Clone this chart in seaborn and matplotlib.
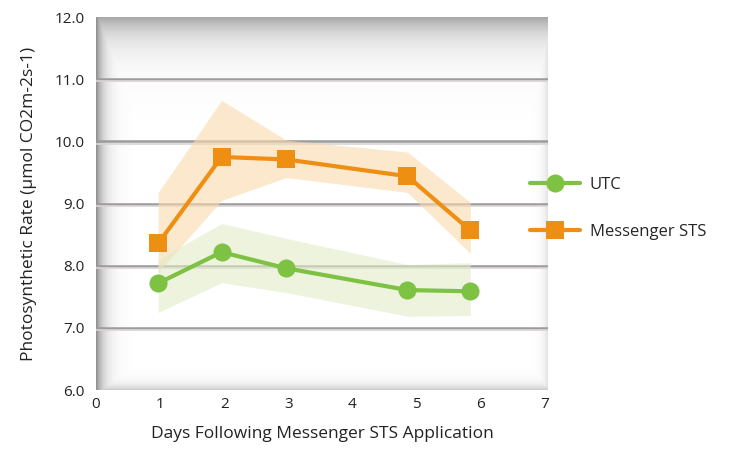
import numpy as np
import pandas as pd
import matplotlib
matplotlib.use("Agg")
import matplotlib.pyplot as plt
import seaborn as sns

# Data
days = [0.97, 1.96, 2.97, 4.86, 5.84]
utc = [7.72, 8.22, 7.96, 7.61, 7.59]
utc_low = [7.25, 7.73, 7.57, 7.19, 7.20]
utc_high = [8.10, 8.68, 8.44, 8.02, 8.05]
sts = [8.36, 9.75, 9.71, 9.44, 8.57]
sts_low = [7.90, 9.05, 9.42, 9.18, 8.20]
sts_high = [9.18, 10.66, 10.02, 9.83, 9.02]
x_ticks = [0, 1, 2, 3, 4, 5, 6, 7]
y_ticks = [6.0, 7.0, 8.0, 9.0, 10.0, 11.0, 12.0]

green = "#7dc242"
orange = "#ee8f14"

sns.set_theme(style="white")
plt.rcParams['font.family'] = ['Open Sans', 'DejaVu Sans']

df = pd.DataFrame({
    'Day': days * 2,
    'Rate': utc + sts,
    'Series': ['UTC'] * len(days) + ['Messenger STS'] * len(days),
})

fig = plt.figure(figsize=(7.3, 4.49), dpi=100)
ax = fig.add_axes([0.1315, 0.131, 0.619, 0.831])

# inner shadow on plot area
h, w = 300, 600
yy, xx = np.mgrid[0:h, 0:w]
left = np.exp(-xx / 10.0) * 0.8
top = np.exp(-yy / 16.0) * 0.65
bottom = np.exp(-(h - 1 - yy) / 4.0) * 0.35
right = np.exp(-(w - 1 - xx) / 6.0) * 0.2
alpha = np.clip(np.maximum.reduce([left, top, bottom, right]), 0, 1)
img = np.zeros((h, w, 4))
img[..., :3] = 0.45
img[..., 3] = alpha
ax.imshow(img, extent=[0, 1, 0, 1], transform=ax.transAxes, aspect='auto', zorder=0)

ax.fill_between(days, sts_low, sts_high, color="#f9d9ad", alpha=0.6, lw=0, zorder=1)
ax.fill_between(days, utc_low, utc_high, color="#e1ebc6", alpha=0.6, lw=0, zorder=1)

sns.lineplot(
    data=df, x='Day', y='Rate', hue='Series', style='Series',
    palette={'UTC': green, 'Messenger STS': orange},
    markers={'UTC': 'o', 'Messenger STS': 's'}, dashes=False,
    linewidth=3, markersize=13, markeredgewidth=0, ax=ax, zorder=3,
    legend=False,
)

for yv in y_ticks[1:-1]:
    ax.axhline(yv, color="#9b9b9b", lw=1.8, zorder=0.5)
    ax.axhline(yv - 0.035, color="#d9d4d6", lw=1.2, zorder=0.5)

ax.set_xlim(0, 7.05)
ax.set_ylim(6.0, 12.0)
ax.set_xticks(x_ticks)
ax.set_yticks(y_ticks)
ax.set_yticklabels([f"{v:.1f}" for v in y_ticks])
ax.tick_params(axis='both', length=0, labelsize=11, colors='#222222')
ax.tick_params(axis='y', pad=8)
ax.tick_params(axis='x', pad=5)
for s in ax.spines.values():
    s.set_visible(False)

ax.set_xlabel('Days Following Messenger STS Application', fontsize=12.5, color='#222222', labelpad=10)
ax.set_ylabel('Photosynthetic Rate (\u03bcmol CO2m-2s-1)', fontsize=12.5, color='#222222', labelpad=13)

handles = [
    plt.Line2D([], [], color=green, lw=3, marker='o', markersize=13, markeredgewidth=0),
    plt.Line2D([], [], color=orange, lw=3, marker='s', markersize=13, markeredgewidth=0),
]
fig.legend(handles, ['UTC', 'Messenger STS'], loc='upper left',
           bbox_to_anchor=(0.705, 0.64), frameon=False, fontsize=12,
           handlelength=3.0, labelspacing=1.9, handletextpad=0.6)

fig.savefig('out.png', dpi=100)
